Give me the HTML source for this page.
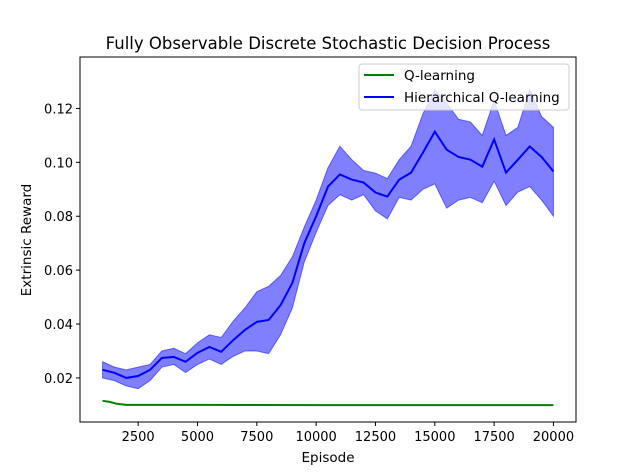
<!DOCTYPE html>
<html><head><meta charset="utf-8"><style>
body{margin:0;background:#fff;}
svg{display:block;font-family:"DejaVu Sans","Liberation Sans",sans-serif;}
</style></head><body>
<svg id="chart" width="640" height="474">
<rect width="640" height="474" fill="#fff"/>
<text x="328" y="49" text-anchor="middle" font-size="16.5">Fully Observable Discrete Stochastic Decision Process</text>
<g id="plot"></g>
<text x="328" y="462" text-anchor="middle" font-size="13.5">Episode</text>
<text transform="translate(31,240) rotate(-90)" text-anchor="middle" font-size="13.5">Extrinsic Reward</text>
</svg>
<script>
const episodes=[1000,1500,2000,2500,3000,3500,4000,4500,5000,5500,6000,6500,7000,7500,8000,8500,9000,9500,10000,10500,11000,11500,12000,12500,13000,13500,14000,14500,15000,15500,16000,16500,17000,17500,18000,18500,19000,19500,20000];
const hqMean=[0.0230,0.0219,0.0200,0.0207,0.0230,0.0274,0.0278,0.0260,0.0293,0.0315,0.0297,0.0340,0.0378,0.0408,0.0415,0.0470,0.0553,0.0700,0.0800,0.0910,0.0955,0.0936,0.0925,0.0888,0.0873,0.0936,0.0962,0.1036,0.1114,0.1047,0.1020,0.1010,0.0984,0.1085,0.0962,0.1010,0.1059,0.1020,0.0966];
const hqUpper=[0.026,0.024,0.023,0.024,0.025,0.030,0.031,0.029,0.033,0.036,0.035,0.041,0.046,0.052,0.054,0.058,0.065,0.076,0.086,0.098,0.106,0.101,0.097,0.096,0.094,0.101,0.106,0.118,0.127,0.122,0.116,0.115,0.110,0.123,0.110,0.113,0.127,0.117,0.113];
const hqLower=[0.020,0.019,0.017,0.016,0.019,0.024,0.025,0.022,0.025,0.027,0.025,0.028,0.030,0.030,0.029,0.036,0.046,0.063,0.074,0.084,0.088,0.086,0.088,0.082,0.079,0.087,0.086,0.090,0.092,0.083,0.086,0.087,0.085,0.093,0.084,0.089,0.091,0.086,0.080];
const qEpisodes=[1000,1300,1600,2000,3000,5000,10000,15000,20000];
const qMean=[0.0115,0.0111,0.0104,0.0100,0.0100,0.0100,0.0099,0.0099,0.0099];
const xTicks=[2500,5000,7500,10000,12500,15000,17500,20000];
const yTicks=[0.02,0.04,0.06,0.08,0.10,0.12];
const yTickLabels=["0.02","0.04","0.06","0.08","0.10","0.12"];

const L=80,R=576,T=57,B=422,xmin=50,xmax=20950,ymin=0.00364,ymax=0.1391;
const X=v=>L+(v-xmin)/(xmax-xmin)*(R-L);
const Y=v=>B-(v-ymin)/(ymax-ymin)*(B-T);
const NS='http://www.w3.org/2000/svg';
const g=document.getElementById('plot');
function mk(t,a){const e=document.createElementNS(NS,t);for(const k in a)e.setAttribute(k,a[k]);g.appendChild(e);return e;}

let d='M'+episodes.map((e,i)=>X(e)+','+Y(hqUpper[i])).join('L');
for(let i=episodes.length-1;i>=0;i--)d+='L'+X(episodes[i])+','+Y(hqLower[i]);
const band=mk('path',{d:d+'Z',fill:'#0000ff','fill-opacity':0.5,stroke:'#0000ff','stroke-opacity':0.5});


const ql=mk('polyline',{points:qEpisodes.map((e,i)=>X(e)+','+Y(qMean[i])).join(' '),fill:'none',stroke:'#008000','stroke-width':2});


const hl=mk('polyline',{points:episodes.map((e,i)=>X(e)+','+Y(hqMean[i])).join(' '),fill:'none',stroke:'#0000ff','stroke-width':2});



const fr=mk('rect',{x:L,y:T,width:R-L,height:B-T,fill:'none',stroke:'#000','stroke-width':1});


xTicks.forEach(v=>{const x=X(v);
 const t=mk('line',{x1:x,x2:x,y1:B,y2:B+4,stroke:'#000'});
 
 
 const tx=mk('text',{x:x,y:B+19,'text-anchor':'middle','font-size':13});tx.textContent=v;
 
 });
yTicks.forEach((v,i)=>{const y=Y(v);
 const t=mk('line',{x1:L-4,x2:L,y1:y,y2:y,stroke:'#000'});
 
 
 const tx=mk('text',{x:L-7,y:y+5,'text-anchor':'end','font-size':13});tx.textContent=yTickLabels[i];
 
 });

const lg=mk('rect',{x:359,y:64,width:210,height:46,rx:3,fill:'#fff','fill-opacity':0.8,stroke:'#ccc'});


[['Q-learning','#008000',75],['Hierarchical Q-learning','#0000ff',97]].forEach(([n,c,y])=>{
 const l=mk('line',{x1:364,x2:394,y1:y,y2:y,stroke:c,'stroke-width':2});
 
 
 const t=mk('text',{x:404,y:y+5,'font-size':13.5});t.textContent=n;
 
 });
</script>
</body></html>
